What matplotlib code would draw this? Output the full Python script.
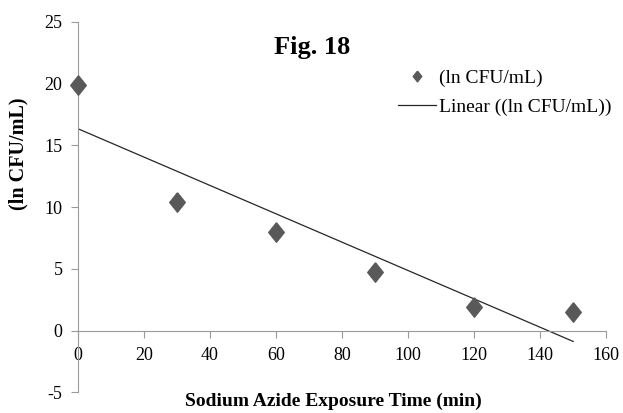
import matplotlib

matplotlib.use("Agg")
import matplotlib.pyplot as plt
import numpy as np

plt.rcParams['font.family'] = ['Liberation Serif', 'DejaVu Serif']
plt.rcParams['axes.unicode_minus'] = False

# exposure time (min) and ln CFU/mL
exposure_min = [0, 30, 60, 90, 120, 150]
ln_cfu = [19.9, 10.4, 7.95, 4.75, 1.9, 1.52]

x_ticks = [0, 20, 40, 60, 80, 100, 120, 140, 160]
y_ticks = [-5, 0, 5, 10, 15, 20, 25]

fig = plt.figure(figsize=(6.23, 4.13), dpi=100)
ax = fig.add_axes([0.125, 0.05, 0.848, 0.897])

diamond = [(0, 1), (0.8, 0), (0, -1), (-0.8, 0), (0, 1)]
ax.plot(exposure_min, ln_cfu, linestyle='none', marker=diamond, markersize=14,
        color='#595959', label='(ln CFU/mL)', zorder=3, clip_on=False)

# linear trendline like Excel
slope, intercept = np.polyfit(exposure_min, ln_cfu, 1)
xs = np.array([exposure_min[0], exposure_min[-1]])
ax.plot(xs, slope * xs + intercept, color='#262626', linewidth=0.9,
        label='Linear ((ln CFU/mL))', zorder=2)

ax.set_xlim(0, 160)
ax.set_ylim(-5, 25)
ax.set_xticks(x_ticks)
ax.set_yticks(y_ticks)

for s in ['top', 'right']:
    ax.spines[s].set_visible(False)
ax.spines['bottom'].set_position(('data', 0))
ax.spines['bottom'].set_color('#9a9a9a')
ax.spines['left'].set_color('#9a9a9a')
ax.tick_params(axis='both', colors='#9a9a9a', labelcolor='black', labelsize=13,
               direction='out', length=5)
ax.tick_params(axis='x', pad=7)
ax.tick_params(axis='y', pad=6)

ax.set_xlabel('Sodium Azide Exposure Time (min)', fontsize=14, fontweight='bold',
              va='center')
ax.xaxis.set_label_coords(0.484, -0.025)
ax.set_ylabel('(ln CFU/mL)', fontsize=14.5, fontweight='bold', va='center')
ax.yaxis.set_label_coords(-0.112, 0.645)

ax.text(0.443, 0.93, 'Fig. 18', transform=ax.transAxes, fontsize=19,
        fontweight='bold', ha='center', va='center')

leg = ax.legend(loc='upper left', bbox_to_anchor=(0.572, 0.92), frameon=False,
                fontsize=14, markerscale=0.55, handlelength=2.0,
                handletextpad=0.15, labelspacing=0.6)

fig.savefig('out.png', dpi=100)
